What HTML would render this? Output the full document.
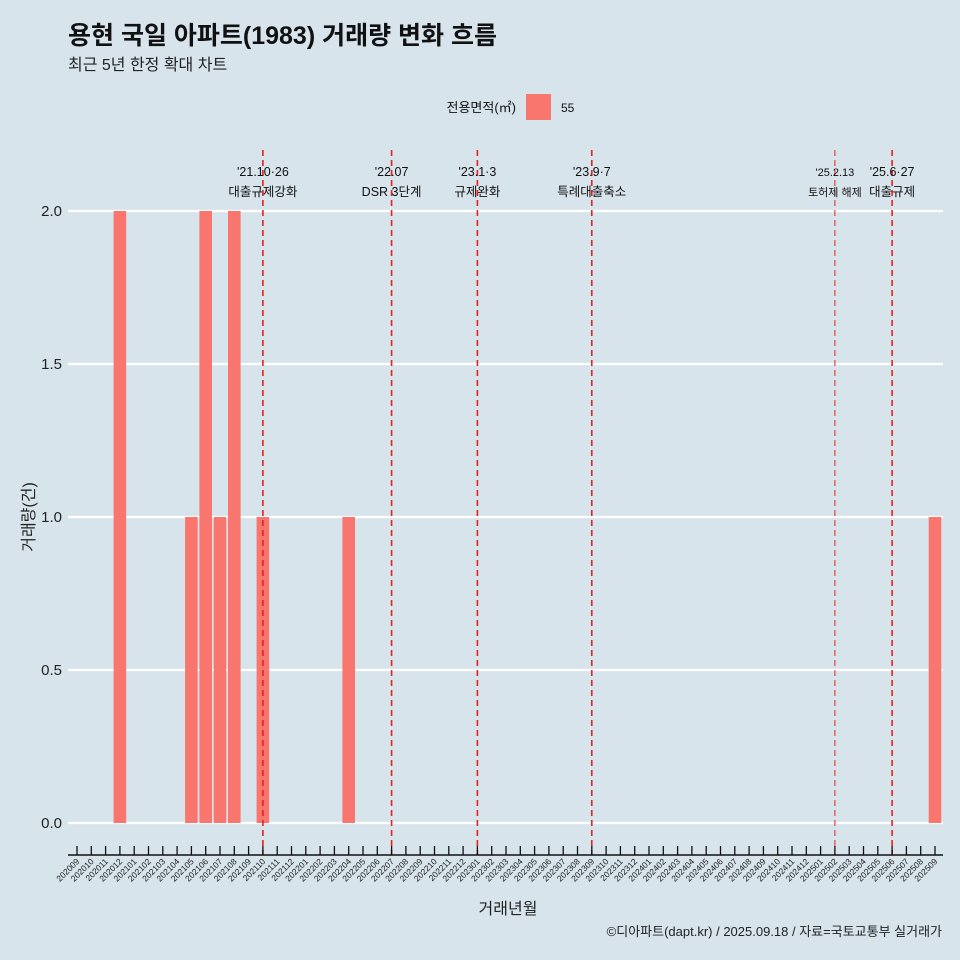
<!DOCTYPE html>
<html><head><meta charset="utf-8"><style>
html,body{margin:0;width:960px;height:960px;overflow:hidden;background:#d7e4ec;font-family:"Liberation Sans","Noto Sans CJK KR",sans-serif}
svg{display:block}
svg text{font-family:"Liberation Sans","Noto Sans CJK KR",sans-serif}
</style></head><body>
<svg id="c" width="960" height="960" xmlns="http://www.w3.org/2000/svg">
<rect width="960" height="960" fill="#d7e4ec"/>
<text x="68" y="44" font-size="25" font-weight="bold" fill="#111">용현 국일 아파트(1983) 거래량 변화 흐름</text>
<text x="68" y="70" font-size="16" fill="#222">최근 5년 한정 확대 차트</text>
<text x="516" y="112" font-size="13" text-anchor="end" fill="#111">전용면적(㎡)</text>
<rect x="526" y="94" width="25" height="26" fill="#f8766d"/>
<text x="561" y="112" font-size="12" fill="#111">55</text>
<g id="grid"></g><g id="bars"></g><g id="vlines"></g><g id="xaxis"></g><g id="yaxis"></g>
<text x="508" y="914" font-size="16" text-anchor="middle" fill="#222">거래년월</text>
<text transform="translate(34,517) rotate(-90)" font-size="16" text-anchor="middle" fill="#222">거래량(건)</text>
<text x="942" y="936" font-size="13" text-anchor="end" fill="#222">©디아파트(dapt.kr) / 2025.09.18 / 자료=국토교통부 실거래가</text>
</svg>
<script>
const months=[];for(let y=2020;y<=2025;y++)for(let m=1;m<=12;m++){const k=y*100+m;if(k>=202009&&k<=202509)months.push(String(k));}
const barMonths=["202012","202105","202106","202107","202108","202110","202204","202509"];
const barValues=[2,1,2,1,2,1,1,1];
const yTicks=[0,0.5,1,1.5,2];
const yTickLabels=["0.0","0.5","1.0","1.5","2.0"];
const eventMonths=["202110","202207","202301","202309","202502","202506"];
const eventDates=["'21.10·26","'22.07","'23.1·3","'23.9·7","'25.2.13","'25.6·27"];
const eventLabels=["대출규제강화","DSR 3단계","규제완화","특례대출축소","토허제 해제","대출규제"];
const NS="http://www.w3.org/2000/svg";
const X0=77,DX=(935-77)/60;
const xs=m=>X0+months.indexOf(m)*DX;
const ys=v=>823-v*(823-211)/2;
function mk(t,a,p){const e=document.createElementNS(NS,t);for(const k in a)e.setAttribute(k,a[k]);p.appendChild(e);return e;}
const grid=document.getElementById('grid');
yTicks.forEach((v,i)=>{
 const l=mk('line',{x1:68,x2:943,y1:ys(v),y2:ys(v),stroke:'#fff','stroke-width':2.2},grid);
 
 
 const t=mk('text',{x:62,y:ys(v)+5,'font-size':15,'text-anchor':'end',fill:'#222'},document.getElementById('yaxis'));
 t.textContent=yTickLabels[i];
 
 
});
const bars=document.getElementById('bars');
barMonths.forEach((m,i)=>{
 const b=mk('rect',{x:xs(m)-6.3,width:12.6,y:ys(barValues[i]),height:ys(0)-ys(barValues[i]),fill:'#f8766d'},bars);
 
 
});
const vl=document.getElementById('vlines');
eventMonths.forEach((m,i)=>{
 const x=xs(m),thin=m==="202502";
 const l=mk('line',{x1:x,x2:x,y1:150,y2:855,stroke:'#e8201c','stroke-width':thin?1:1.6,'stroke-dasharray':'6,4'},vl);
 
 
 const fs=thin?11:12.5;
 const t1=mk('text',{x:x,y:176,'font-size':fs,'text-anchor':'middle',fill:'#111'},vl);t1.textContent=eventDates[i];
 
 
 const t2=mk('text',{x:x,y:196,'font-size':fs,'text-anchor':'middle',fill:'#111'},vl);t2.textContent=eventLabels[i];
 
 
});
const xa=document.getElementById('xaxis');
const al=mk('line',{x1:68,x2:943,y1:855,y2:855,stroke:'#111','stroke-width':1.5},xa);


months.forEach(m=>{
 const x=xs(m);
 const tk=mk('line',{x1:x,x2:x,y1:846,y2:855,stroke:'#111','stroke-width':1.3},xa);
 
 
 const t=mk('text',{transform:`translate(${x+3},${862}) rotate(-45)`,'font-size':8.5,'text-anchor':'end',fill:'#222'},xa);
 t.textContent=m;
 
 
});
</script>
</body></html>
